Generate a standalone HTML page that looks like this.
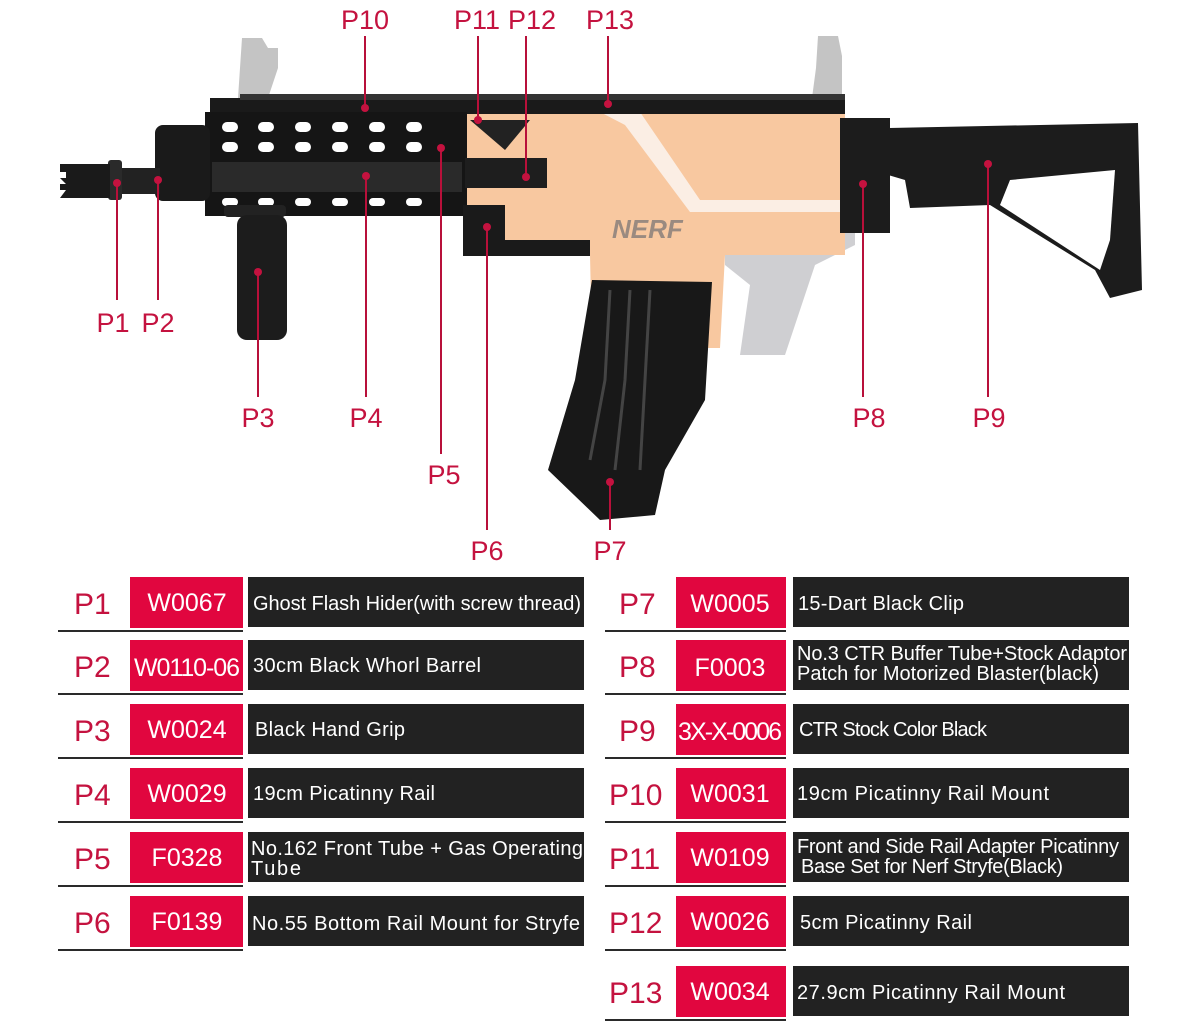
<!DOCTYPE html>
<html><head><meta charset="utf-8"><style>
html,body{margin:0;padding:0;background:#fff;}
svg{display:block;font-family:"Liberation Sans",sans-serif;}
.pl{fill:#c4123f;font-size:30px;}
.code{fill:#fff;font-size:25px;text-anchor:middle;}
.d{fill:#fff;font-size:20px;}
.lbl{fill:#c4123f;font-size:27px;text-anchor:middle;}
.ln{stroke:#b8103a;stroke-width:2;}
.dot{fill:#c4123f;}
</style></head><body>
<svg width="1200" height="1024" viewBox="0 0 1200 1024">
<!-- sights -->
<path d="M242,38 h20 l6,10 h10 v20 l-10,30 h-30 z" fill="#c4c4c4"/>
<path d="M818,36 h20 l4,20 v42 h-30 l4,-30 z" fill="#c4c4c4"/>
<!-- trigger/grip gray -->
<path d="M725,205 h130 v40 l-40,20 l-30,90 h-45 l10,-70 l-25,-20 z" fill="#cfcfd2"/>
<!-- orange receiver -->
<path d="M465,112 L845,112 L845,255 L725,255 L720,348 L592,348 L590,255 L465,255 Z" fill="#f8c8a0"/>
<path d="M600,112 L640,112 L700,200 L845,200 L845,212 L690,212 L625,125 Z" fill="#fbeee4"/>
<text x="612" y="238" font-size="26" font-style="italic" font-weight="bold" fill="#9a8a80">NERF</text>
<!-- top rail -->
<rect x="210" y="98" width="635" height="16" fill="#1a1a1a"/>
<path d="M240,94 h605 v6 h-605z" fill="#333"/>
<!-- handguard -->
<rect x="205" y="112" width="262" height="104" fill="#151515"/>
<g fill="#fff">
<rect x="222" y="122" width="16" height="10" rx="5"/><rect x="258" y="122" width="16" height="10" rx="5"/><rect x="295" y="122" width="16" height="10" rx="5"/><rect x="332" y="122" width="16" height="10" rx="5"/><rect x="369" y="122" width="16" height="10" rx="5"/><rect x="406" y="122" width="16" height="10" rx="5"/>
<rect x="222" y="142" width="16" height="10" rx="5"/><rect x="258" y="142" width="16" height="10" rx="5"/><rect x="295" y="142" width="16" height="10" rx="5"/><rect x="332" y="142" width="16" height="10" rx="5"/><rect x="369" y="142" width="16" height="10" rx="5"/><rect x="406" y="142" width="16" height="10" rx="5"/>
<rect x="222" y="198" width="16" height="8" rx="4"/><rect x="258" y="198" width="16" height="8" rx="4"/><rect x="295" y="198" width="16" height="8" rx="4"/><rect x="332" y="198" width="16" height="8" rx="4"/><rect x="369" y="198" width="16" height="8" rx="4"/><rect x="406" y="198" width="16" height="8" rx="4"/>
</g>
<rect x="212" y="162" width="250" height="30" fill="#2a2a2a"/>
<!-- rail P12 & P6 -->
<rect x="465" y="158" width="82" height="30" fill="#1e1e1e"/>
<path d="M463,205 L505,205 L505,240 L590,240 L590,256 L463,256 Z" fill="#1a1a1a"/>
<path d="M470,120 L530,120 L505,150 Z" fill="#222"/>
<!-- front block, barrel, hider -->
<rect x="155" y="125" width="55" height="76" rx="8" fill="#1a1a1a"/>
<rect x="120" y="168" width="40" height="26" fill="#222"/>
<rect x="108" y="160" width="14" height="40" rx="3" fill="#2a2a2a"/>
<path d="M60,164 h50 v34 h-50 l6,-8 h-6 v-6 h6 l-6,-6 h6 v-6 h-6z" fill="#1a1a1a"/>
<!-- grip -->
<rect x="224" y="205" width="62" height="12" rx="4" fill="#222"/>
<rect x="237" y="215" width="50" height="125" rx="10" fill="#1c1c1c"/>
<!-- magazine -->
<path d="M592,280 L712,282 L705,400 L665,470 L655,515 L600,520 L548,470 L575,380 Z" fill="#181818"/>
<path d="M610,290 L605,380 L590,460 M630,290 L625,380 L615,470 M650,290 L645,380 L640,470" stroke="#444" stroke-width="3" fill="none"/>
<!-- stock -->
<rect x="840" y="118" width="50" height="115" fill="#1c1c1c"/>
<path d="M888,128 L1138,123 L1142,290 L1110,298 L1095,270 L990,205 L910,208 L905,180 L888,175 Z" fill="#1c1c1c"/>
<path d="M1000,205 L1100,270 L1110,240 L1115,170 L1010,180 Z" fill="#fff"/>
<!-- leader lines -->
<g class="ln">
<line x1="117" y1="183" x2="117" y2="300"/><line x1="158" y1="180" x2="158" y2="300"/>
<line x1="258" y1="272" x2="258" y2="397"/><line x1="366" y1="176" x2="366" y2="397"/>
<line x1="441" y1="148" x2="441" y2="454"/><line x1="487" y1="227" x2="487" y2="530"/>
<line x1="610" y1="482" x2="610" y2="530"/><line x1="863" y1="184" x2="863" y2="397"/>
<line x1="988" y1="164" x2="988" y2="397"/>
<line x1="365" y1="108" x2="365" y2="36"/><line x1="478" y1="120" x2="478" y2="36"/>
<line x1="526" y1="177" x2="526" y2="36"/><line x1="608" y1="104" x2="608" y2="36"/>
</g>
<g class="dot">
<circle cx="117" cy="183" r="4"/><circle cx="158" cy="180" r="4"/><circle cx="258" cy="272" r="4"/><circle cx="366" cy="176" r="4"/><circle cx="441" cy="148" r="4"/><circle cx="487" cy="227" r="4"/><circle cx="610" cy="482" r="4"/><circle cx="863" cy="184" r="4"/><circle cx="988" cy="164" r="4"/><circle cx="365" cy="108" r="4"/><circle cx="478" cy="120" r="4"/><circle cx="526" cy="177" r="4"/><circle cx="608" cy="104" r="4"/>
</g>
<g class="lbl">
<text x="365" y="29">P10</text><text x="477" y="29">P11</text><text x="532" y="29">P12</text><text x="610" y="29">P13</text>
<text x="113" y="332">P1</text><text x="158" y="332">P2</text><text x="258" y="427">P3</text><text x="366" y="427">P4</text>
<text x="444" y="484">P5</text><text x="487" y="560">P6</text><text x="610" y="560">P7</text><text x="869" y="427">P8</text><text x="989" y="427">P9</text>
</g>
<!-- table left -->
<g>
<rect x="130" y="577" width="113" height="51" fill="#e1063f"/><rect x="248" y="577" width="336" height="50" fill="#222"/>
<rect x="130" y="640" width="113" height="51" fill="#e1063f"/><rect x="248" y="640" width="336" height="50" fill="#222"/>
<rect x="130" y="704" width="113" height="51" fill="#e1063f"/><rect x="248" y="704" width="336" height="50" fill="#222"/>
<rect x="130" y="768" width="113" height="51" fill="#e1063f"/><rect x="248" y="768" width="336" height="50" fill="#222"/>
<rect x="130" y="832" width="113" height="51" fill="#e1063f"/><rect x="248" y="832" width="336" height="50" fill="#222"/>
<rect x="130" y="896" width="113" height="51" fill="#e1063f"/><rect x="248" y="896" width="336" height="50" fill="#222"/>
<g fill="#2a2a2a">
<rect x="58" y="630" width="185" height="2"/><rect x="58" y="693" width="185" height="2"/><rect x="58" y="757" width="185" height="2"/><rect x="58" y="821" width="185" height="2"/><rect x="58" y="885" width="185" height="2"/><rect x="58" y="949" width="185" height="2"/>
</g>
<text class="pl" x="74" y="614">P1</text><text class="pl" x="74" y="677">P2</text><text class="pl" x="74" y="741">P3</text><text class="pl" x="74" y="805">P4</text><text class="pl" x="74" y="869">P5</text><text class="pl" x="74" y="933">P6</text>
<text class="code" x="187" y="611">W0067</text><text class="code" x="187" y="676" font-size="21" textLength="106">W0110-06</text><text class="code" x="187" y="738">W0024</text><text class="code" x="187" y="802">W0029</text><text class="code" x="187" y="866">F0328</text><text class="code" x="187" y="930">F0139</text>
<text class="d" x="253" y="610" textLength="328">Ghost Flash Hider(with screw thread)</text>
<text class="d" x="253" y="672" textLength="228">30cm Black Whorl Barrel</text>
<text class="d" x="255" y="736" textLength="150">Black Hand Grip</text>
<text class="d" x="253" y="800" textLength="182">19cm Picatinny Rail</text>
<text class="d" x="251" y="855" textLength="332">No.162 Front Tube + Gas Operating</text>
<text class="d" x="251" y="875" textLength="50">Tube</text>
<text class="d" x="252" y="930" textLength="328">No.55 Bottom Rail Mount for Stryfe</text>
</g>
<!-- table right -->
<g>
<rect x="676" y="577" width="110" height="51" fill="#e1063f"/><rect x="793" y="577" width="336" height="50" fill="#222"/>
<rect x="676" y="640" width="110" height="51" fill="#e1063f"/><rect x="793" y="640" width="336" height="50" fill="#222"/>
<rect x="676" y="704" width="110" height="51" fill="#e1063f"/><rect x="793" y="704" width="336" height="50" fill="#222"/>
<rect x="676" y="768" width="110" height="51" fill="#e1063f"/><rect x="793" y="768" width="336" height="50" fill="#222"/>
<rect x="676" y="832" width="110" height="51" fill="#e1063f"/><rect x="793" y="832" width="336" height="50" fill="#222"/>
<rect x="676" y="896" width="110" height="51" fill="#e1063f"/><rect x="793" y="896" width="336" height="50" fill="#222"/>
<rect x="676" y="966" width="110" height="51" fill="#e1063f"/><rect x="793" y="966" width="336" height="50" fill="#222"/>
<g fill="#2a2a2a">
<rect x="605" y="630" width="181" height="2"/><rect x="605" y="693" width="181" height="2"/><rect x="605" y="757" width="181" height="2"/><rect x="605" y="821" width="181" height="2"/><rect x="605" y="885" width="181" height="2"/><rect x="605" y="949" width="181" height="2"/><rect x="605" y="1019" width="181" height="2"/>
</g>
<text class="pl" x="619" y="614">P7</text><text class="pl" x="619" y="677">P8</text><text class="pl" x="619" y="741">P9</text><text class="pl" x="609" y="805">P10</text><text class="pl" x="609" y="869">P11</text><text class="pl" x="609" y="933">P12</text><text class="pl" x="609" y="1003">P13</text>
<text class="code" x="730" y="612">W0005</text><text class="code" x="730" y="676">F0003</text><text class="code" x="730" y="740" font-size="20" textLength="104">3X-X-0006</text><text class="code" x="730" y="802">W0031</text><text class="code" x="730" y="866">W0109</text><text class="code" x="730" y="930">W0026</text><text class="code" x="730" y="1000">W0034</text>
<text class="d" x="798" y="610" textLength="166">15-Dart Black Clip</text>
<text class="d" x="797" y="660" textLength="330">No.3 CTR Buffer Tube+Stock Adaptor</text>
<text class="d" x="797" y="680" textLength="302">Patch for Motorized Blaster(black)</text>
<text class="d" x="799" y="736" textLength="188">CTR Stock Color Black</text>
<text class="d" x="797" y="800" textLength="252">19cm Picatinny Rail Mount</text>
<text class="d" x="797" y="853" textLength="322">Front and Side Rail Adapter Picatinny</text>
<text class="d" x="801" y="873" textLength="262">Base Set  for Nerf Stryfe(Black)</text>
<text class="d" x="800" y="929" textLength="172">5cm Picatinny Rail</text>
<text class="d" x="797" y="999" textLength="268">27.9cm Picatinny Rail Mount</text>
</g>
</svg>
</body></html>
